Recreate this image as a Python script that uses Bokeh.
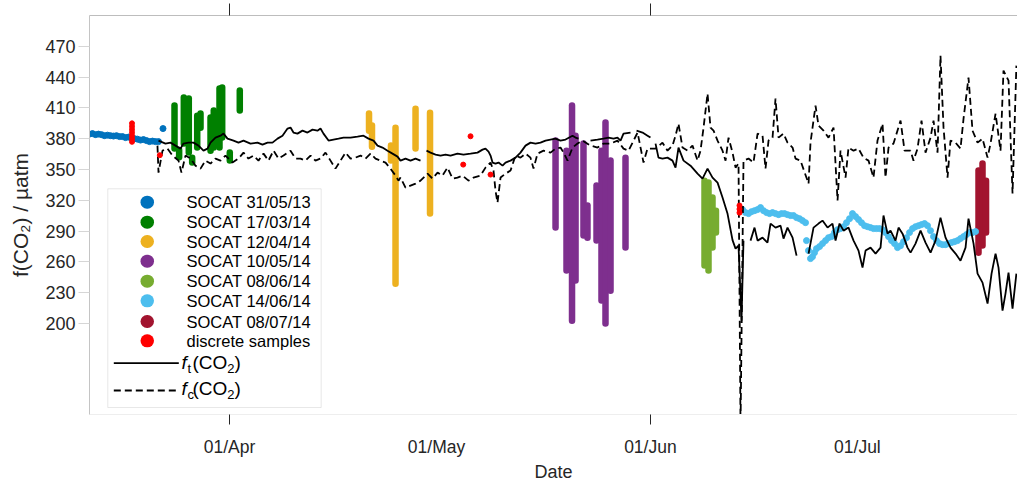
import numpy as np
import pandas as pd
from bokeh.plotting import figure
from bokeh.models import (Range1d, FixedTicker, DatetimeAxis, LinearAxis, DatetimeTickFormatter,
                          BoxAnnotation, Label, Arrow)
from bokeh.embed import file_html
from bokeh.resources import INLINE

NaN = float("nan")

# ---------------- data (time as day of year 2014, fCO2 in uatm) ----------------
ft_doy = [80.71, 81.72, 82.45, 83.17, 83.90, 84.33, 85.06, 85.78, 86.51, 87.23,
          87.81, 88.25, 88.97, 89.70, 90.13, 90.71, 91.58, 92.30, 93.03, 94.04,
          95.06, 95.78, 96.51, 97.23, 97.96, 98.68, 99.41, 99.84, 100.27, 100.85,
          101.58, 102.30, 103.03, 103.75, 104.19, 104.62, 105.35, 106.07, 106.80, 107.52,
          108.54, 109.55, 110.42, 111.14, 111.87, 112.45, 113.17, 113.90, 114.62, 115.35,
          115.78, 116.51, 117.23, 117.96, 118.68,
          119.10,
          119.55, 120.13, 120.86, 121.58, 122.31, 123.03, 124.04, 124.91, 125.93, 126.94,
          127.67, 128.10, 128.54, 128.83, 129.12, 129.55, 129.99, 130.57, 131.00, 131.73,
          132.45, 133.17, 133.90, 134.62, 135.35, 136.07, 136.80, 137.52, 138.25, 138.97,
          139.70, 140.71, 141.14, 141.58,
          142.40,
          143.32, 144.33, 145.20, 145.93, 146.65, 147.23, 147.67, 148.10, 149.12,
          149.50,
          149.99, 150.86, 151.58, 152.01,
          152.40,
          152.74, 153.17, 153.75, 154.48, 155.20, 155.64, 156.07, 156.80, 157.81, 158.83,
          159.55, 160.28, 161.00, 161.73, 162.45, 163.18, 163.90, 164.34, 164.77, 165.20,
          165.49,
          166.00,
          166.51, 167.09, 167.53, 168.25, 168.97, 169.41, 170.13, 170.86, 171.29, 171.87,
          172.60, 173.18,
          174.00,
          174.92, 175.64, 176.36, 176.94, 177.67, 178.39, 178.83, 179.41, 179.99, 180.71,
          181.44, 182.16, 182.74, 183.18, 183.90, 184.63, 185.35, 185.78, 186.36, 186.80,
          187.52, 187.96, 188.54, 189.26, 189.70, 190.42, 191.15, 191.87, 192.60, 193.32,
          194.04, 194.77, 195.49, 196.22, 196.94, 197.67, 198.10, 198.83, 199.41, 200.13,
          200.86, 201.44, 202.02, 202.45, 203.03, 203.46, 203.90, 204.48, 205.04]
ft_val = [378.2, 375.3, 376.2, 373.3, 370.4, 375.3, 376.2, 376.2, 373.3, 368.4,
          370.4, 376.2, 381.1, 383.0, 385.0, 380.1, 378.2, 376.2, 378.2, 375.3,
          376.2, 374.3, 376.2, 376.2, 380.1, 383.0, 389.9, 390.9, 386.0, 385.0,
          387.9, 386.0, 388.9, 387.9, 389.9, 385.0, 378.2, 379.2, 380.1, 381.1,
          381.1, 382.1, 383.0, 380.1, 378.2, 373.3, 371.4, 368.4, 365.5, 362.6,
          358.7, 360.7, 358.7, 360.7, 358.7,
          NaN,
          368.4, 366.5, 364.6, 363.6, 364.6, 363.6, 365.5, 364.6, 365.5, 366.5,
          369.4, 370.4, 367.5, 363.6, 356.8, 355.8, 356.8, 353.8, 356.8, 358.7,
          361.6, 366.5, 373.3, 376.2, 375.3, 376.2, 378.2, 379.2, 380.1, 378.2,
          379.2, 383.0, 381.1, 380.1,
          NaN,
          378.2, 379.2, 380.1, 381.1, 380.1, 381.1, 378.2, 385.0, 386.0,
          NaN,
          387.9, 386.0, 383.0, 381.1,
          NaN,
          375.3, 361.6, 360.7, 361.6, 358.7, 351.9, 371.4, 358.7, 353.8, 346.0,
          341.2, 350.9, 342.2, 337.3, 322.7, 306.9, 281.3, 273.0, 275.9, 202.9,
          280.8,
          NaN,
          280.8, 293.5, 280.8, 283.7, 278.9, 297.4, 293.5, 295.4, 282.8, 293.5,
          283.7, 266.2,
          NaN,
          268.2, 293.5, 297.4, 300.3, 293.5, 297.4, 280.8, 297.4, 290.5, 293.5,
          280.8, 271.1, 254.5, 271.1, 274.0, 268.2, 274.0, 305.2, 287.6, 290.5,
          280.8, 293.5, 287.6, 274.0, 269.1, 277.9, 290.5, 278.9, 269.1, 280.8,
          303.2, 283.7, 274.0, 268.2, 261.3, 274.0, 302.2, 277.9, 248.7, 239.9,
          219.5, 248.7, 268.2, 254.5, 212.7, 229.2, 249.7, 214.6, 248.7]

fc_doy = [80.56, 80.71, 81.29, 82.01, 82.74, 83.61, 84.04, 84.62, 85.35, 86.07,
          86.80, 87.52, 88.25, 88.97, 89.70, 90.42, 91.43, 92.30, 93.03, 93.75,
          94.48, 95.20, 95.93, 96.65, 97.38, 98.10, 98.83, 99.41, 99.84, 100.56,
          101.29, 102.01, 102.74, 103.46, 104.19, 104.91, 105.64, 106.36, 107.09, 107.81,
          108.54, 109.26, 109.99, 110.71, 111.43, 112.16, 112.88, 113.61, 114.33, 115.06,
          115.49, 115.78, 116.51, 117.23, 117.96, 118.68, 119.70, 120.42, 121.15, 121.87,
          122.59, 123.32, 124.04, 124.77, 125.64, 126.36, 127.38, 128.10, 128.83, 129.26,
          129.55, 129.84, 130.28, 131.00, 131.73, 132.45, 133.17, 133.90, 134.62, 135.06,
          135.64, 136.51, 137.52, 138.25, 138.97, 139.41, 139.99, 140.71, 141.44, 142.16,
          143.32, 144.33, 145.20, 146.22, 147.23, 148.10, 148.83, 150.14, 151.00, 151.58,
          152.74, 153.75, 154.48, 155.20, 155.64, 156.07, 156.65, 157.38, 158.10, 158.83,
          159.26, 159.70, 160.28, 160.71, 161.15, 161.73, 162.45, 162.89, 163.32, 163.90,
          164.34, 164.77, 165.06, 165.49, 166.22, 166.94, 167.53, 168.25, 168.68, 169.12,
          169.70, 170.13, 170.57, 171.29, 171.87, 172.60, 173.03, 173.75, 174.92, 175.20,
          175.93, 176.36, 177.09, 177.81, 178.54, 179.12, 179.55, 180.28, 180.71, 181.44,
          182.16, 182.88, 183.61, 184.33, 184.91, 185.64, 186.07, 186.51, 187.23, 188.25,
          188.83, 189.70, 190.13, 190.71, 191.29, 191.87, 192.60, 193.03, 193.61, 194.04,
          194.48, 195.06, 195.49, 196.22, 196.94, 197.38, 198.10, 198.68, 199.41, 200.13,
          200.86, 201.29, 202.02, 202.74, 203.17, 203.90, 204.48, 205.04]
fc_val = [373.3, 347.0, 368.4, 370.4, 363.6, 358.7, 347.0, 363.6, 360.7, 353.8,
          350.9, 358.7, 355.8, 360.7, 358.7, 363.6, 356.8, 360.7, 366.5, 360.7,
          363.6, 358.7, 365.5, 358.7, 368.4, 360.7, 363.6, 366.5, 368.4, 360.7,
          360.7, 358.7, 363.6, 358.7, 360.7, 366.5, 358.7, 350.9, 358.7, 366.5,
          360.7, 361.6, 363.6, 360.7, 365.5, 360.7, 358.7, 356.8, 350.9, 344.1,
          339.2, 342.2, 332.4, 334.4, 336.3, 339.2, 346.0, 341.2, 347.0, 344.1,
          351.9, 341.2, 342.2, 344.1, 339.2, 342.2, 344.1, 351.9, 356.8, 349.0,
          329.5, 317.8, 342.2, 346.0, 349.0, 363.6, 361.6, 365.5, 361.6, 350.9,
          365.5, 368.4, 366.5, 370.4, 371.4, 366.5, 358.7, 371.4, 375.3, 378.2,
          373.3, 371.4, 375.3, 375.3, 378.2, 370.4, 368.4, 386.0, 356.8, 370.4,
          370.4, 376.2, 368.4, 373.3, 383.0, 394.7, 371.4, 368.4, 373.3, 358.7,
          368.4, 390.8, 424.0, 390.8, 387.9, 378.2, 368.4, 358.7, 381.1, 366.5,
          351.9, 355.8, 100.0, 358.7, 360.7, 356.8, 385.0, 383.0, 350.9, 378.2,
          381.1, 419.1, 381.1, 385.0, 376.2, 371.4, 360.7, 358.7, 336.3, 376.2,
          412.3, 392.8, 387.9, 381.1, 390.8, 319.8, 368.4, 342.2, 371.4, 368.4,
          370.4, 361.6, 358.7, 342.2, 378.2, 394.7, 342.2, 371.4, 375.3, 397.7,
          368.4, 368.4, 358.7, 370.4, 397.7, 366.5, 381.1, 397.7, 366.5, 460.9,
          390.8, 342.2, 378.2, 376.2, 370.4, 399.6, 439.5, 387.9, 376.2, 380.1,
          361.6, 375.3, 404.5, 368.4, 446.3, 436.6, 326.6, 451.2]

# SOCAT 31/05/13 (individual points)
s1_doy = [70.71, 71.14, 71.58, 72.01, 72.45, 72.88, 73.32, 73.75, 74.19, 74.62,
          75.06, 75.49, 75.93, 76.36, 76.80, 77.23, 77.66, 78.10, 78.53, 78.97,
          79.40, 79.84, 80.27, 80.71, 81.36]
s1_val = [384.5, 385.0, 384.0, 384.5, 384.0, 383.0, 383.5, 383.0, 382.6, 383.0,
          382.1, 382.1, 381.1, 381.6, 380.6, 380.1, 379.6, 378.7, 379.2, 378.2,
          377.2, 377.7, 377.2, 377.2, 389.9]

# SOCAT 17/03/14 (dense vertical profiles: time, min, max)
s2_doy = [83.03, 83.70, 84.38, 85.10, 85.59, 86.32, 86.80, 88.25, 88.72, 89.55, 89.94, 91.04, 92.49]
s2_lo = [370.4, 362.0, 375.3, 366.5, 356.8, 371.4, 390.8, 368.4, 371.4, 371.4, 381.1, 358.7, 407.4]
s2_hi = [412.3, 369.0, 420.1, 419.1, 361.6, 402.5, 404.5, 400.6, 407.4, 428.8, 429.8, 366.5, 426.9]

# SOCAT 12/04/14
s3_doy = [111.22, 111.65, 114.40, 115.06, 117.96, 120.06]
s3_lo = [387.9, 372.3, 358.7, 238.9, 370.4, 307.1]
s3_hi = [404.5, 392.8, 373.3, 390.8, 409.3, 405.4]

# SOCAT 10/05/14
s4_doy = [138.25, 139.84, 140.64, 141.15, 142.30, 142.88, 144.19, 144.91, 145.49, 146.22, 148.39]
s4_lo = [293.5, 251.6, 202.9, 241.9, 285.7, 283.7, 280.8, 222.4, 200.0, 232.1, 274.0]
s4_hi = [378.2, 368.4, 412.3, 383.0, 375.3, 314.9, 334.4, 368.4, 395.7, 358.7, 361.6]

# SOCAT 08/06/14
s5_doy = [159.84, 160.42, 161.00, 161.50]
s5_lo = [256.5, 251.6, 274.0, 288.6]
s5_hi = [339.2, 337.3, 322.7, 310.0]

# SOCAT 14/06/14 (individual points)
s6_doy = [165.35, 165.78, 166.22, 166.65, 167.09, 167.52, 167.96, 168.39, 168.83, 169.26,
          169.70, 170.13, 170.57, 171.00, 171.44, 171.87, 172.30, 172.74, 173.17, 173.61,
          174.04, 174.48, 174.62, 174.91, 175.20, 175.49, 175.78, 176.07, 176.51, 176.94,
          177.38, 177.81, 178.25, 178.68, 179.12, 179.55, 179.99, 180.42, 180.86, 181.29,
          181.73, 182.16, 182.59, 183.03, 183.46, 183.90, 184.33, 184.77, 185.20, 185.64,
          186.07, 186.51, 186.94, 187.38, 187.81, 188.25, 188.68, 189.12, 189.55, 189.99,
          190.42, 190.86, 191.29, 191.73, 192.16, 192.59, 193.03, 193.46, 193.90, 194.33,
          194.77, 195.20, 195.64, 196.07, 196.51, 196.94, 197.38, 197.81, 198.25, 198.68,
          199.12]
s6_val = [311.0, 308.1, 307.1, 309.0, 310.0, 311.0, 313.0, 310.0, 308.1, 307.1,
          308.1, 307.1, 306.1, 307.1, 307.1, 306.1, 305.2, 305.2, 303.2, 302.2,
          300.3, 298.3, 280.8, 271.1, 263.3, 265.2, 269.1, 273.0, 275.0, 277.9,
          280.8, 283.7, 284.7, 288.6, 291.5, 292.5, 294.4, 298.3, 302.2, 307.1,
          304.2, 301.3, 298.3, 295.4, 294.4, 293.5, 292.5, 292.5, 292.5, 291.5,
          288.6, 284.7, 280.8, 277.9, 274.0, 275.9, 279.8, 283.7, 288.6, 292.5,
          294.4, 295.4, 296.4, 297.4, 295.4, 290.5, 284.7, 280.8, 277.9, 276.9,
          276.9, 277.9, 278.9, 279.8, 280.8, 282.8, 284.7, 286.7, 288.6, 288.6,
          289.6]

# SOCAT 08/07/14
s7_doy = [199.55, 200.13, 200.64]
s7_lo = [269.1, 276.0, 288.6]
s7_hi = [349.0, 355.8, 339.2]

# discrete samples
disc_doy = [76.87, 76.87, 76.87, 76.87, 76.87, 76.87, 76.87, 80.90, 124.87, 125.93, 128.83,
            164.91, 164.91, 164.91]
disc_val = [377.0, 380.0, 383.0, 386.0, 389.0, 392.0, 395.0, 364.0, 354.8, 382.4, 345.1,
            315.0, 311.5, 308.0]

legend_labels = ["SOCAT 31/05/13", "SOCAT 17/03/14", "SOCAT 12/04/14", "SOCAT 10/05/14",
                 "SOCAT 08/06/14", "SOCAT 14/06/14", "SOCAT 08/07/14", "discrete samples"]
legend_colors = ["#0072BD", "#008000", "#EDB120", "#7E2F8E", "#77AC30", "#4DBEEE", "#A2142F", "#FF0000"]

x_tick_dates = ["2014-04-01", "2014-05-01", "2014-06-01", "2014-07-01"]
x_dark_tick_dates = ["2014-04-01", "2014-06-01"]
y_ticks = [200, 230, 260, 290, 320, 350, 380, 410, 440, 470]

# ---------------- helpers ----------------
BASE = pd.Timestamp("2014-01-01")


def to_ms(doy):
    d = np.asarray(doy, dtype=float)
    return (BASE.value / 1e6) + (d - 1.0) * 86400000.0


def date_ms(s):
    return pd.Timestamp(s).value / 1e6


TXT = "#262626"
FONT = "Liberation Sans"

p = figure(width=1017, height=486, output_backend="svg", toolbar_location=None,
           x_axis_location=None, y_axis_location=None,
           x_range=Range1d(float(to_ms(70.71)), float(to_ms(205.20))),
           y_range=Range1d(111.5, 500.0),
           min_border_left=89, min_border_right=0, min_border_top=15, min_border_bottom=72,
           background_fill_color="white", border_fill_color="white", outline_line_color=None)
for g in p.grid:
    g.visible = False

# axes
ax_top = DatetimeAxis(ticker=FixedTicker(ticks=[date_ms(d) for d in x_dark_tick_dates]),
                      major_tick_out=12, major_tick_in=0, major_tick_line_color=TXT,
                      minor_tick_line_color=None, axis_line_color="#bdbdbd",
                      major_label_text_font_size="1px", major_label_text_color=None,
                      major_label_standoff=0)
p.add_layout(ax_top, "above")

ax_left = LinearAxis(ticker=FixedTicker(ticks=y_ticks), major_tick_out=11, major_tick_in=0,
                     major_tick_line_color="#d6d6d6", minor_tick_line_color=None,
                     axis_line_color="#c4c4c4", major_label_standoff=3,
                     major_label_text_font=FONT, major_label_text_font_size="18px",
                     major_label_text_color=TXT,
                     axis_label="f(CO₂) / µatm", axis_label_standoff=10,
                     axis_label_text_font=FONT, axis_label_text_font_size="21px",
                     axis_label_text_font_style="normal", axis_label_text_color=TXT)
p.add_layout(ax_left, "left")

ax_b1 = DatetimeAxis(ticker=FixedTicker(ticks=[date_ms(d) for d in x_dark_tick_dates]),
                     major_tick_out=10, major_tick_in=0, major_tick_line_color=TXT,
                     minor_tick_line_color=None, axis_line_color="#eeeeee",
                     major_label_text_font_size="1px", major_label_text_color=None,
                     major_label_standoff=0)
p.add_layout(ax_b1, "below")

fmt = DatetimeTickFormatter(microseconds="%d/%b", milliseconds="%d/%b", seconds="%d/%b",
                            minsec="%d/%b", minutes="%d/%b", hourmin="%d/%b", hours="%d/%b",
                            days="%d/%b", months="%d/%b", years="%d/%b")
ax_b2 = DatetimeAxis(ticker=FixedTicker(ticks=[date_ms(d) for d in x_tick_dates]), formatter=fmt,
                     major_tick_out=0, major_tick_in=0, major_tick_line_color=None,
                     minor_tick_line_color=None, axis_line_color=None, major_label_standoff=12,
                     major_label_text_font=FONT, major_label_text_font_size="17.5px",
                     major_label_text_color=TXT,
                     axis_label="Date", axis_label_standoff=2, axis_label_text_font=FONT,
                     axis_label_text_font_size="18px", axis_label_text_font_style="normal",
                     axis_label_text_color=TXT)
p.add_layout(ax_b2, "below")

# SOCAT profiles
band_w = 6.5
for doy, lo, hi, col in [(s2_doy, s2_lo, s2_hi, legend_colors[1]),
                         (s3_doy, s3_lo, s3_hi, legend_colors[2]),
                         (s4_doy, s4_lo, s4_hi, legend_colors[3]),
                         (s5_doy, s5_lo, s5_hi, legend_colors[4]),
                         (s7_doy, s7_lo, s7_hi, legend_colors[6])]:
    t = to_ms(doy)
    p.segment(x0=t, y0=lo, x1=t, y1=hi, line_color=col, line_width=band_w, line_cap="round")

p.scatter(to_ms(s1_doy), s1_val, size=6, color=legend_colors[0])
p.scatter(to_ms(s6_doy), s6_val, size=6, color=legend_colors[5])

# model lines
p.line(to_ms(ft_doy), ft_val, line_color="black", line_width=1.8)
p.line(to_ms(fc_doy), fc_val, line_color="black", line_width=1.8, line_dash="7 4")

# discrete samples
p.scatter(to_ms(disc_doy), disc_val, size=5, color=legend_colors[7])

# ---------------- legend (screen units, relative to plot frame) ----------------
box = BoxAnnotation(left=18.3, right=231.7, bottom=7, top=225.7,
                    left_units="screen", right_units="screen", top_units="screen", bottom_units="screen",
                    fill_color="white", fill_alpha=1.0, line_color="#b4b4b4", line_width=1, level="annotation")
p.add_layout(box)

row_y = [212.3, 192.3, 173.0, 153.3, 133.3, 113.7, 93.0, 73.7]
for lab, col, ry in zip(legend_labels, legend_colors, row_y):
    p.add_layout(Arrow(x_start=57.5, y_start=ry, x_end=58.0, y_end=ry, start_units="screen",
                       end_units="screen", start=None, end=None, line_color=col, line_width=13,
                       line_cap="round", level="overlay"))
    p.add_layout(Label(x=97, y=ry, x_units="screen", y_units="screen", text=lab,
                       text_baseline="middle", text_font=FONT, text_font_size="16.5px",
                       text_color="black", level="overlay"))

for ly, ty, sub, dash in [(51.3, 52.3, "t", None), (24.0, 25.7, "c", "7 4")]:
    kw = dict(line_dash=dash) if dash else {}
    p.add_layout(Arrow(x_start=24.3, y_start=ly, x_end=89.3, y_end=ly, start_units="screen",
                       end_units="screen", start=None, end=None, line_color="black", line_width=1.8,
                       level="overlay", **kw))
    p.add_layout(Label(x=92, y=ty, x_units="screen", y_units="screen", text="f",
                       text_baseline="middle", text_font=FONT, text_font_style="italic",
                       text_font_size="19px", text_color="black", level="overlay"))
    p.add_layout(Label(x=98, y=ty - 6, x_units="screen", y_units="screen", text=sub,
                       text_baseline="middle", text_font=FONT, text_font_size="13px",
                       text_color="black", level="overlay"))
    p.add_layout(Label(x=103, y=ty, x_units="screen", y_units="screen", text="(CO",
                       text_baseline="middle", text_font=FONT, text_font_size="19px",
                       text_color="black", level="overlay"))
    p.add_layout(Label(x=137.8, y=ty - 6, x_units="screen", y_units="screen", text="2",
                       text_baseline="middle", text_font=FONT, text_font_size="13px",
                       text_color="black", level="overlay"))
    p.add_layout(Label(x=145, y=ty, x_units="screen", y_units="screen", text=")",
                       text_baseline="middle", text_font=FONT, text_font_size="19px",
                       text_color="black", level="overlay"))

open("out.html", "w").write(file_html(p, INLINE))
